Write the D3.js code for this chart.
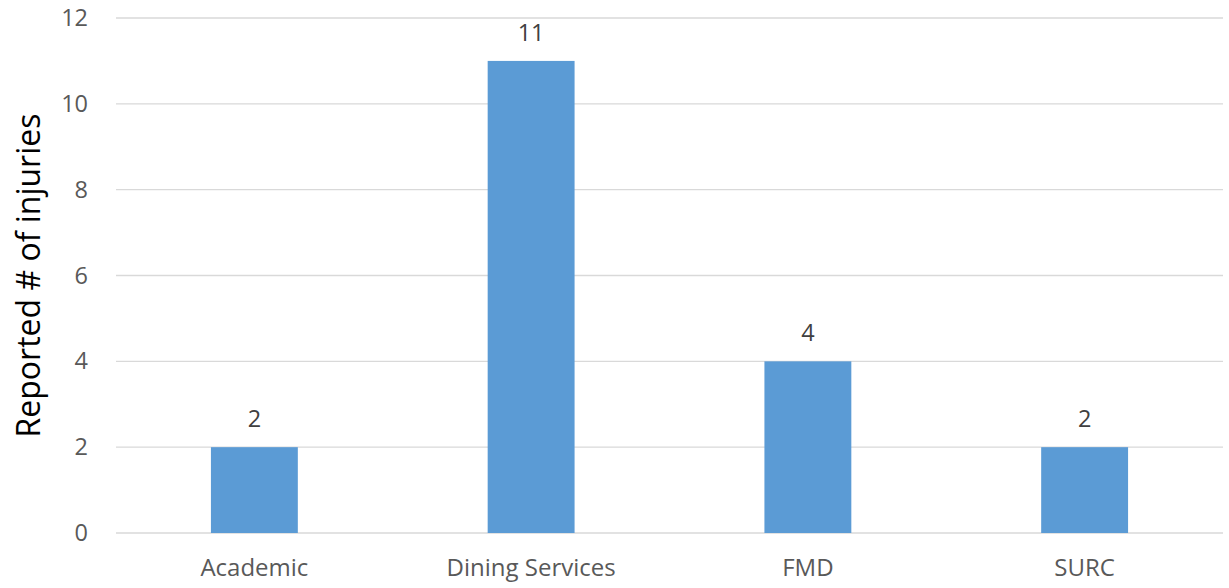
<!DOCTYPE html>
<html><head><meta charset="utf-8">
<script src="https://cdn.jsdelivr.net/npm/d3@7"></script>
<style>body{margin:0;background:#fff;}svg{display:block;}</style>
</head><body>
<svg id="c" width="1229" height="588"></svg>
<script>
const categories = ["Academic", "Dining Services", "FMD", "SURC"];
const values = [2, 11, 4, 2];
const yTicks = [0, 2, 4, 6, 8, 10, 12];
const yTitle = "Reported # of injuries";

const svg = d3.select("#c");
const m = {left: 116, right: 1223, top: 18, bottom: 533};
const font = "'Open Sans', 'Noto Sans', sans-serif";

const x = d3.scaleBand().domain(categories).range([m.left, m.right]).paddingInner(0.686).paddingOuter(0.343);
const y = d3.scaleLinear().domain([0, 12]).range([m.bottom, m.top]);

// gridlines
svg.append("g").selectAll("line").data(yTicks).join("line")
  .attr("x1", m.left).attr("x2", m.right)
  .attr("y1", d => y(d)).attr("y2", d => y(d))
  .attr("stroke", "#d9d9d9").attr("stroke-width", 1.3);

// y axis labels
const yAxis = d3.axisLeft(y).tickValues(yTicks).tickSize(0).tickPadding(0);
const gy = svg.append("g").attr("transform", `translate(${m.left - 28},0)`).call(yAxis);
gy.select(".domain").remove();
gy.selectAll("text").attr("font-family", font).attr("font-size", 23.5).attr("fill", "#595959");

// x axis labels
const xAxis = d3.axisBottom(x).tickSize(0).tickPadding(0);
const gx = svg.append("g").attr("transform", `translate(0,${m.bottom + 26})`).call(xAxis);
gx.select(".domain").remove();
gx.selectAll("text").attr("font-family", font).attr("font-size", 24).attr("fill", "#595959");

// bars
svg.append("g").selectAll("rect").data(values).join("rect")
  .attr("x", (d, i) => x(categories[i]))
  .attr("width", x.bandwidth())
  .attr("y", d => y(d))
  .attr("height", d => y(0) - y(d))
  .attr("fill", "#5b9bd5");

// data labels
svg.append("g").selectAll("text").data(values).join("text")
  .attr("x", (d, i) => x(categories[i]) + x.bandwidth() / 2)
  .attr("y", d => y(d) - 20)
  .attr("text-anchor", "middle")
  .attr("font-family", font).attr("font-size", 23.5).attr("fill", "#404040")
  .text(d => d);

// y title
svg.append("text")
  .attr("transform", `translate(40,${(m.top + m.bottom) / 2}) rotate(-90)`)
  .attr("text-anchor", "middle")
  .attr("font-family", font).attr("font-size", 32).attr("fill", "#000")
  .text(yTitle);
</script>
</body></html>
